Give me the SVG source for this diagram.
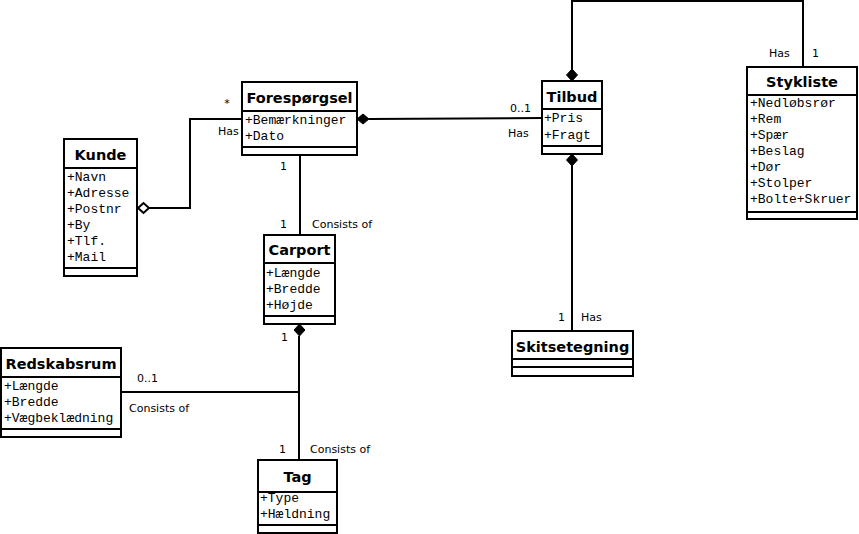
<svg xmlns="http://www.w3.org/2000/svg" width="859" height="534" viewBox="0 0 859 534">
<style>
.box{fill:#fff;stroke:#000;stroke-width:2}
.div{stroke:#000;stroke-width:2}
.title{font-family:"DejaVu Sans",Verdana,sans-serif;font-weight:bold;font-size:14.5px;text-anchor:middle;fill:#000}
.attr{font-family:"Liberation Mono","Courier New",monospace;font-size:13px;fill:#000}
.lbl{font-family:"DejaVu Sans",Tahoma,sans-serif;font-size:11px;fill:#000}
.con{fill:none;stroke:#000;stroke-width:2}
.fd{fill:#000;stroke:#000;stroke-width:1}
.hd{fill:#fff;stroke:#000;stroke-width:2}
</style>
<rect width="859" height="534" fill="#fff"/>
<g id="connectors">
  <path class="con" d="M149,208 H190 V119 H242"/>
  <path class="hd" d="M138,208 L143.5,203 L149,208 L143.5,213 Z"/>
  <path class="con" d="M369,119 L542,118"/>
  <path class="fd" d="M357,119 L363,114 L369,119 L363,124 Z"/>
  <path class="con" d="M300,155 V235"/>
  <path class="con" d="M299,336 V460"/>
  <path class="fd" d="M299.5,324 L305,330 L299.5,336 L294,330 Z"/>
  <path class="con" d="M121,392 H299"/>
  <path class="con" d="M572,69 V1 H803 V67"/>
  <path class="fd" d="M572,69 L577.5,75 L572,81 L566.5,75 Z"/>
  <path class="con" d="M572,166 V331"/>
  <path class="fd" d="M572,154 L577.5,160 L572,166 L566.5,160 Z"/>
  <text class="lbl" x="227" y="107" text-anchor="middle">*</text>
  <text class="lbl" x="218" y="135">Has</text>
  <text class="lbl" x="280" y="170">1</text>
  <text class="lbl" x="280" y="228">1</text>
  <text class="lbl" x="312" y="228">Consists of</text>
  <text class="lbl" x="510" y="112">0..1</text>
  <text class="lbl" x="508" y="137">Has</text>
  <text class="lbl" x="769" y="57">Has</text>
  <text class="lbl" x="812" y="57">1</text>
  <text class="lbl" x="558" y="321">1</text>
  <text class="lbl" x="581" y="321">Has</text>
  <text class="lbl" x="281" y="341">1</text>
  <text class="lbl" x="137" y="382">0..1</text>
  <text class="lbl" x="129" y="412">Consists of</text>
  <text class="lbl" x="279" y="453">1</text>
  <text class="lbl" x="310" y="453">Consists of</text>
</g>
<g id="kunde">
  <rect class="box" x="64" y="139" width="73" height="137"/>
  <path class="div" d="M64,168 H137 M64,268 H137"/>
  <text class="title" x="100.5" y="160">Kunde</text>
  <text class="attr" x="67" y="181">+Navn</text>
  <text class="attr" x="67" y="197">+Adresse</text>
  <text class="attr" x="67" y="213">+Postnr</text>
  <text class="attr" x="67" y="229">+By</text>
  <text class="attr" x="67" y="245">+Tlf.</text>
  <text class="attr" x="67" y="261">+Mail</text>
</g>
<g id="forespoergsel">
  <rect class="box" x="242" y="82" width="115" height="73"/>
  <path class="div" d="M242,111 H357 M242,147 H357"/>
  <text class="title" x="299.5" y="102.5">Forespørgsel</text>
  <text class="attr" x="245" y="124">+Bemærkninger</text>
  <text class="attr" x="245" y="140">+Dato</text>
</g>
<g id="carport">
  <rect class="box" x="264" y="235" width="71" height="89"/>
  <path class="div" d="M264,263 H335 M264,316 H335"/>
  <text class="title" x="299.5" y="255">Carport</text>
  <text class="attr" x="266" y="277">+Længde</text>
  <text class="attr" x="266" y="293">+Bredde</text>
  <text class="attr" x="266" y="309">+Højde</text>
</g>
<g id="redskabsrum">
  <rect class="box" x="1" y="348" width="120" height="89"/>
  <path class="div" d="M1,377 H121 M1,429 H121"/>
  <text class="title" x="61" y="369">Redskabsrum</text>
  <text class="attr" x="4" y="390">+Længde</text>
  <text class="attr" x="4" y="406">+Bredde</text>
  <text class="attr" x="4" y="422">+Vægbeklædning</text>
</g>
<g id="tag">
  <rect class="box" x="258" y="460" width="79" height="73"/>
  <path class="div" d="M258,492 H337 M258,525 H337"/>
  <text class="title" x="297.5" y="482">Tag</text>
  <text class="attr" x="260" y="502">+Type</text>
  <text class="attr" x="260" y="518">+Hældning</text>
</g>
<g id="tilbud">
  <rect class="box" x="542" y="81" width="60" height="73"/>
  <path class="div" d="M542,109 H602 M542,146 H602"/>
  <text class="title" x="572" y="102">Tilbud</text>
  <text class="attr" x="544" y="122">+Pris</text>
  <text class="attr" x="544" y="139">+Fragt</text>
</g>
<g id="stykliste">
  <rect class="box" x="747" y="67" width="110" height="152"/>
  <path class="div" d="M747,95 H857 M747,212 H857"/>
  <text class="title" x="802" y="87">Stykliste</text>
  <text class="attr" x="750" y="107">+Nedløbsrør</text>
  <text class="attr" x="750" y="123">+Rem</text>
  <text class="attr" x="750" y="139">+Spær</text>
  <text class="attr" x="750" y="155">+Beslag</text>
  <text class="attr" x="750" y="171">+Dør</text>
  <text class="attr" x="750" y="187">+Stolper</text>
  <text class="attr" x="750" y="203">+Bolte+Skruer</text>
</g>
<g id="skitsetegning">
  <rect class="box" x="512" y="331" width="121" height="45"/>
  <path class="div" d="M512,359 H633 M512,367 H633"/>
  <text class="title" x="572.5" y="352">Skitsetegning</text>
</g>
</svg>
